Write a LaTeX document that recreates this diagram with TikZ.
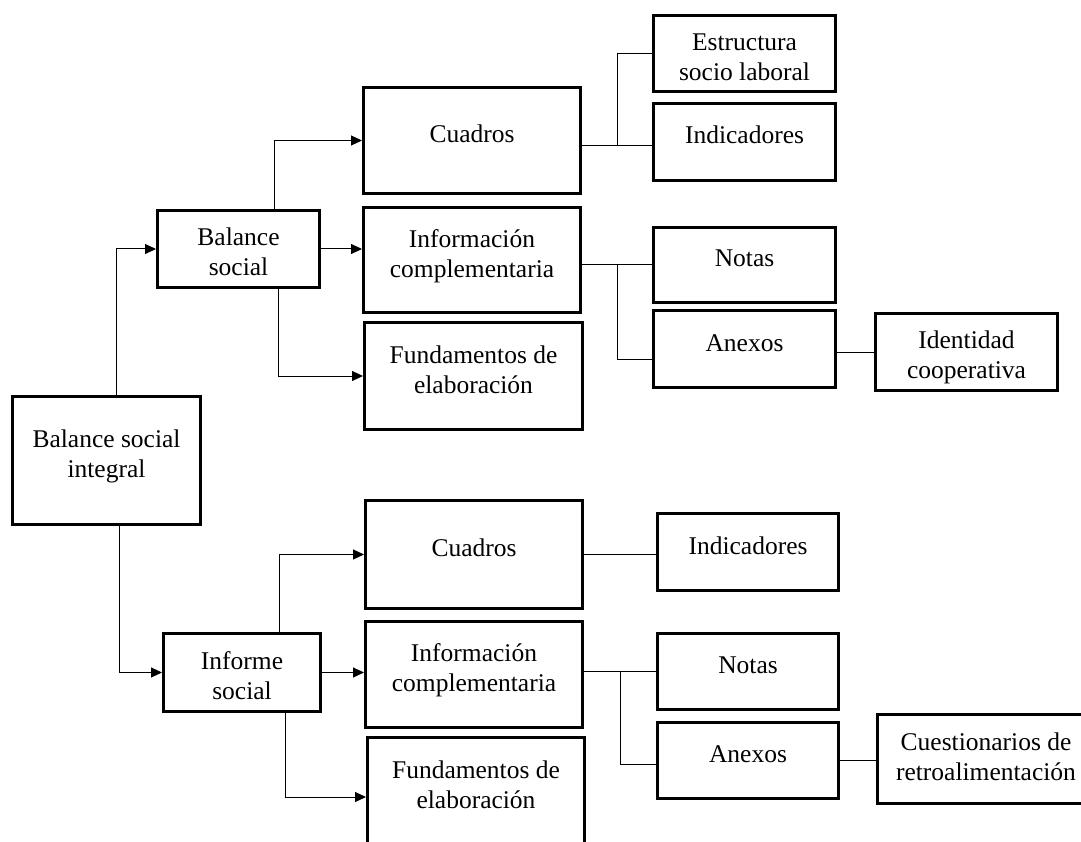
\documentclass[tikz,border=0pt]{standalone}
\usepackage{fontspec}
\setmainfont{Liberation Serif}
\usetikzlibrary{arrows.meta,calc}

% text of a box, raised by the optional amount
\newcommand{\lbl}[2][4pt]{\raisebox{#1}[\height][\depth]{\begin{tabular}{@{}c@{}}#2\end{tabular}}}

\tikzset{
    box/.style={draw, line width=3pt, inner sep=2pt,
        font=\fontsize{25.5pt}{30pt}\selectfont},
    arr/.style={line width=1pt, -{Triangle[length=11pt,width=10pt]}},
    ln/.style={line width=1pt}
}

\begin{document}
\begin{tikzpicture}[x=1pt,y=-1pt]
        \useasboundingbox (0,0) rectangle (1081,842);
        \fill[white] (0,0) rectangle (1081,842);

        % Root
        \node[box, minimum width=188pt, minimum height=128pt] (bsi) at (106.5,460.5) {\lbl{Balance social\\integral}};

        % Balance social branch
        \node[box, minimum width=162pt, minimum height=77pt] (bs) at (238.5,249) {\lbl[-6pt]{Balance\\social}};
        \node[box, minimum width=217pt, minimum height=106pt] (cuadA) at (472,140.5) {\lbl{Cuadros}};
        \node[box, minimum width=217pt, minimum height=105pt] (infoA) at (472,260) {\lbl{Información\\complementaria}};
        \node[box, minimum width=218pt, minimum height=107pt] (fundA) at (473.5,376) {\lbl{Fundamentos de\\elaboración}};
        \node[box, minimum width=182pt, minimum height=76pt] (estr) at (744.5,53.5) {\lbl[-6pt]{Estructura\\socio laboral}};
        \node[box, minimum width=182pt, minimum height=77pt] (indA) at (744.5,142) {\lbl{Indicadores}};
        \node[box, minimum width=182pt, minimum height=75pt] (notA) at (744.5,265) {\lbl{Notas}};
        \node[box, minimum width=182pt, minimum height=77pt] (anxA) at (744.5,349) {\lbl{Anexos}};
        \node[box, minimum width=182pt, minimum height=77pt] (idc) at (966.5,352) {\lbl[-5pt]{Identidad\\cooperativa}};

        % Informe social branch
        \node[box, minimum width=157pt, minimum height=78pt] (is) at (242,672.5) {\lbl[-6pt]{Informe\\social}};
        \node[box, minimum width=217pt, minimum height=108pt] (cuadB) at (474,554.5) {\lbl{Cuadros}};
        \node[box, minimum width=217pt, minimum height=106pt] (infoB) at (474,674.5) {\lbl{Información\\complementaria}};
        \node[box, minimum width=217pt, minimum height=107pt] (fundB) at (476,791) {\lbl{Fundamentos de\\elaboración}};
        \node[box, minimum width=181pt, minimum height=77pt] (indB) at (748,552) {\lbl{Indicadores}};
        \node[box, minimum width=181pt, minimum height=76pt] (notB) at (748,671.5) {\lbl{Notas}};
        \node[box, minimum width=181pt, minimum height=76pt] (anxB) at (748,760.5) {\lbl{Anexos}};
        \node[box, minimum width=217pt, minimum height=89pt] (cues) at (986,759) {\lbl[0pt]{Cuestionarios de\\retroalimentación}};

        % Arrows from the root
        \draw[arr] ([xshift=10pt]bsi.north) |- (bs.west);
        \draw[arr] ([xshift=13pt]bsi.south) |- (is.west);

        % Arrows of Balance social
        \draw[arr] ([xshift=36pt]bs.north) |- (cuadA.west);
        \draw[arr] (bs.east) -- (bs.east -| infoA.west);
        \draw[arr] ([xshift=40pt]bs.south) |- (fundA.west);

        % Arrows of Informe social
        \draw[arr] ([xshift=37pt]is.north) |- (cuadB.west);
        \draw[arr] (is.east) -- (is.east -| infoB.west);
        \draw[arr] ([xshift=43pt]is.south) |- ([yshift=-6pt]fundB.west);

        % Plain connectors, top
        \coordinate (jA) at ($([yshift=-5pt]cuadA.east)!.5!([yshift=-5pt]cuadA.east -| indA.west)$);
        \draw[ln] ([yshift=-5pt]cuadA.east) -- ([yshift=-5pt]cuadA.east -| indA.west);
        \draw[ln] (jA) |- (estr.west);
        \coordinate (jB) at ($(infoA.east |- notA.west)!.5!(notA.west)$);
        \draw[ln] (infoA.east |- notA.west) -- (notA.west);
        \draw[ln] (jB) |- ([yshift=-10pt]anxA.west);
        \draw[ln] (anxA.east |- idc.west) -- (idc.west);

        % Plain connectors, bottom
        \draw[ln] (cuadB.east) -- (cuadB.east -| indB.west);
        \coordinate (jC) at ($(infoB.east |- notB.west)!.5!(notB.west)$);
        \draw[ln] (infoB.east |- notB.west) -- (notB.west);
        \draw[ln] (jC) |- ([yshift=-4pt]anxB.west);
        \draw[ln] (anxB.east) -- (anxB.east -| cues.west);
\end{tikzpicture}
\end{document}
